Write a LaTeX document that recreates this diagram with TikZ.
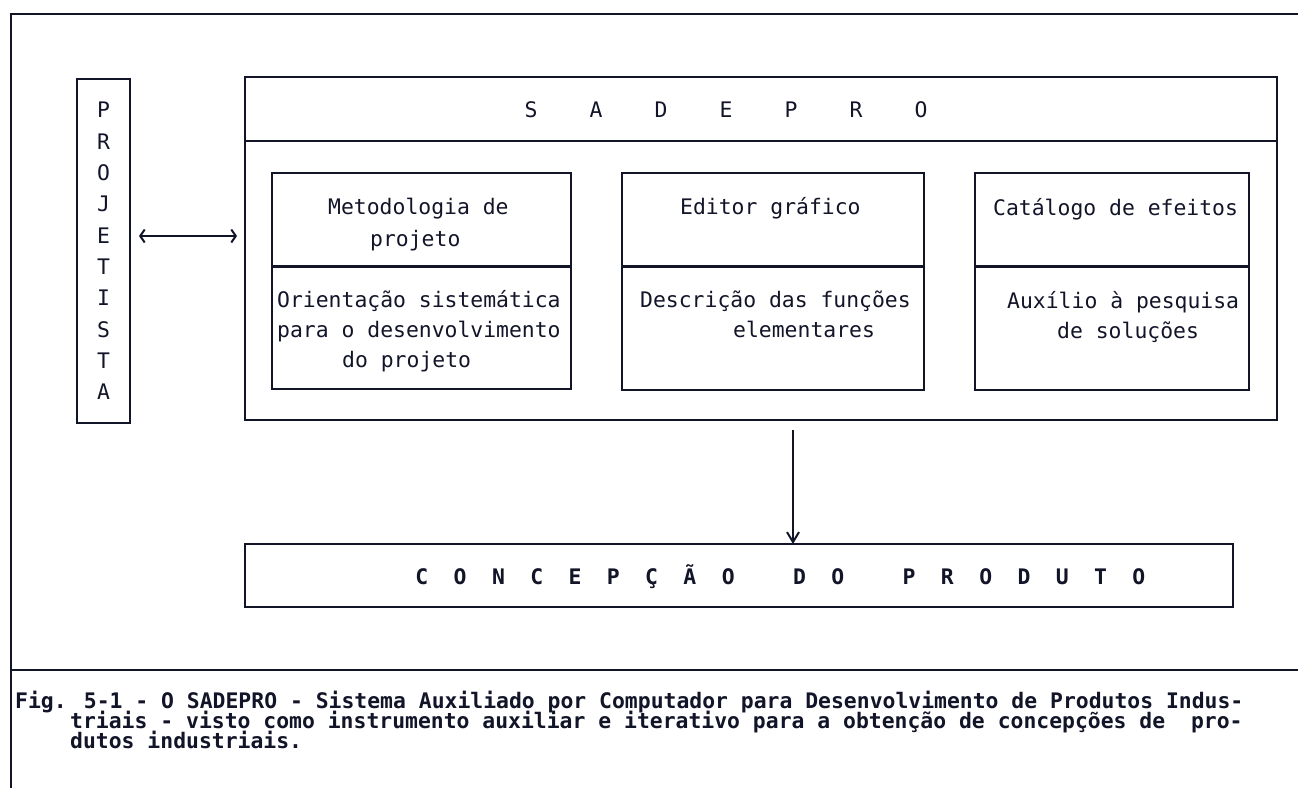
\documentclass[tikz,border=0pt]{standalone}
\usepackage{fontspec}
\usetikzlibrary{arrows.meta,calc}
\newfontfamily\mfont{DejaVu Sans Mono}
\definecolor{ink}{RGB}{18,20,40}
\newcommand\tfont{\mfont\fontsize{21.4pt}{26pt}\selectfont}
\newcommand\bfnt{\mfont\bfseries\fontsize{21.4pt}{26pt}\selectfont}
\newcommand\pfont{\mfont\fontsize{21.4pt}{31.3pt}\selectfont}
\newcommand\lb[2]{\makebox[#1pt]{#2}}
\begin{document}
\begin{tikzpicture}[x=1pt,y=-1pt,
  line/.style={draw=ink,line width=2.2pt},
  box/.style={line,inner sep=0pt,outer sep=0pt},
  txt/.style={font=\tfont,text=ink,anchor=base west,inner sep=0pt},
  captxt/.style={font=\bfnt,text=ink,anchor=base west,inner sep=0pt},
  downarr/.style={-{Straight Barb[length=10pt,width=12pt,line width=2pt]}},
  dblarr/.style={{Straight Barb[length=4.5pt,width=13pt,line width=2pt]}-{Straight Barb[length=4.5pt,width=13pt,line width=2pt]}},
  conn/.style={draw=ink,line width=2.2pt}]
\useasboundingbox (0,0) rectangle (1298,788);
% frame
\coordinate (ftl) at (11,14);
\coordinate (ftr) at (1298,14);
\coordinate (fbl) at (11,788);
\coordinate (fsl) at (11,670);
\coordinate (fsr) at (1298,670);
\draw[line] (ftr) -- (ftl) -- (fbl);
\draw[line] (fsl) -- (fsr);
% projetista
\node[box,minimum width=53pt,minimum height=344pt,font=\pfont,text=ink,align=center] (proj) at (103.5,251)
  {P\\R\\O\\J\\E\\T\\I\\S\\T\\A};
% sadepro
\node[box,minimum width=1032pt,minimum height=343pt] (sad) at (761,248.5) {};
\draw[line] ([yshift=-64pt]sad.north west) -- ([yshift=-64pt]sad.north east);
\node[font=\tfont,text=ink,inner sep=0pt,text height=15.6pt,text depth=0pt] (sadt) at (726,110)
  {\lb{65}{S}\lb{65}{A}\lb{65}{D}\lb{65}{E}\lb{65}{P}\lb{65}{R}\lb{65}{O}};
% inner boxes
\node[box,minimum width=299pt,minimum height=216pt] (b1) at (421.5,281) {};
\node[box,minimum width=302pt,minimum height=217pt] (b2) at (773,281.5) {};
\node[box,minimum width=274pt,minimum height=217pt] (b3) at (1112,281.5) {};
\foreach \b in {b1,b2,b3}
  \draw[line] ([yshift=-93.5pt]\b.north west) -- ([yshift=-93.5pt]\b.north east);
\node[txt] (t11) at (328,214) {Metodologia de};
\node[txt] (t12) at (370,246) {projeto};
\node[txt] (t13) at (277,307) {Orientação sistemática};
\node[txt] (t14) at (277,337) {para o desenvolvimento};
\node[txt] (t15) at (342,367) {do projeto};
\node[txt] (t21) at (680,214) {Editor gráfico};
\node[txt] (t22) at (640,307) {Descrição das funções};
\node[txt] (t23) at (733,337) {elementares};
\node[txt] (t31) at (993,215) {Catálogo de efeitos};
\node[txt] (t32) at (1007,308) {Auxílio à pesquisa};
\node[txt] (t33) at (1057,338) {de soluções};
% concepcao
\node[box,minimum width=988pt,minimum height=63pt] (conc) at (739,575.5) {};
\node[font=\bfnt,text=ink,inner sep=0pt,text height=15.6pt,text depth=0pt] (conct) at (780.4,577)
  {\lb{38.3}{C}\lb{38.3}{O}\lb{38.3}{N}\lb{38.3}{C}\lb{38.3}{E}\lb{38.3}{P}\lb{38.3}{Ç}\lb{38.3}{Ã}\lb{38.3}{O}\hspace{33pt}%
   \lb{38.3}{D}\lb{38.3}{O}\hspace{33pt}%
   \lb{38.3}{P}\lb{38.3}{R}\lb{38.3}{O}\lb{38.3}{D}\lb{38.3}{U}\lb{38.3}{T}\lb{38.3}{O}};
% connectors
\draw[conn,dblarr,shorten <=9pt,shorten >=8pt] ([yshift=15pt]proj.east) -- ([yshift=15pt]proj.east -| sad.west);
\draw[conn,downarr,shorten <=10pt] ([xshift=32pt]sad.south) -- ([xshift=32pt]sad.south |- conc.north);
% caption
\node[captxt] (c1) at (15,708) {Fig. 5-1 - O SADEPRO - Sistema Auxiliado por Computador para Desenvolvimento de Produtos Indus-};
\node[captxt] (c2) at (70,728) {triais - visto como instrumento auxiliar e iterativo para a obtenção de concepções de\ \ pro-};
\node[captxt] (c3) at (70,748) {dutos industriais.};
\end{tikzpicture}
\end{document}
